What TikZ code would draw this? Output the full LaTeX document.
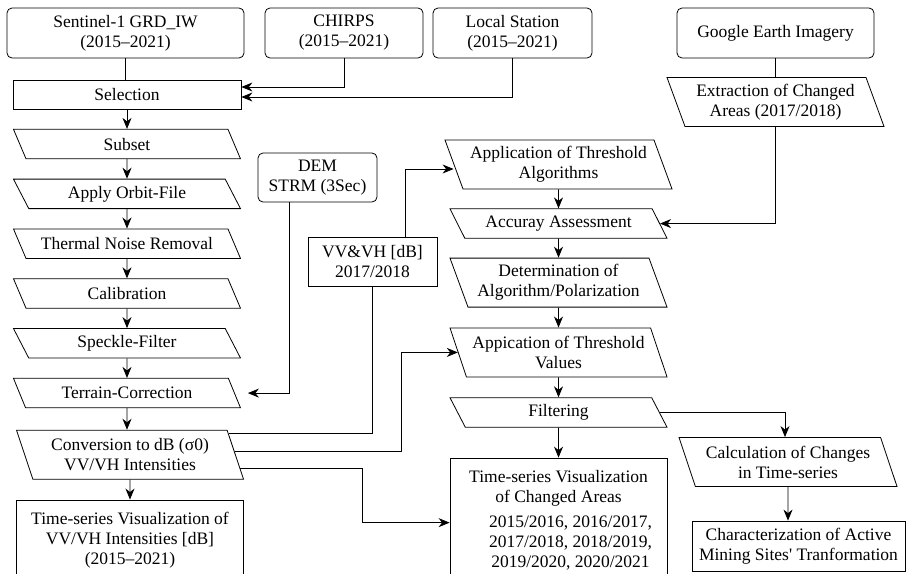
\documentclass[tikz,border=0pt]{standalone}
\usepackage{fontspec}
\setmainfont{Liberation Serif}
\usetikzlibrary{arrows.meta,positioning,shapes.geometric}

\begin{document}
\begin{tikzpicture}[
  x=1pt, y=-1pt,
  line width=0.8pt,
  every node/.style={draw,align=center,inner sep=2pt,
    font=\fontsize{17.5}{20}\selectfont},
  box/.style={rectangle,minimum height=49pt},
  rbox/.style={rectangle,rounded corners=5pt,minimum height=50pt},
  para/.style={trapezium,trapezium left angle=127.5,trapezium right angle=52.5,
    trapezium stretches body,minimum height=29.5pt,minimum width=227pt},
  paratwo/.style={trapezium,trapezium left angle=114.2,trapezium right angle=65.8,
    trapezium stretches body,minimum height=49pt,minimum width=227pt},
  arr/.style={-{Stealth[length=11pt,width=9pt,inset=3.5pt]}}
]
\useasboundingbox (0,0) rectangle (915,573);
% input data
\node[rbox,minimum width=237pt] (sen) at (125.5,33) {Sentinel-1 GRD\_IW\\(2015--2021)};
\node[rbox,minimum width=158pt] (chirps) at (344,33) {CHIRPS\\(2015--2021)};
\node[rbox,minimum width=159pt] (station) at (512.5,33) {Local Station\\(2015--2021)};
\node[rbox,minimum width=197pt] (google) at (775.5,33) {Google Earth Imagery};
\node[rbox,minimum width=119pt,minimum height=49pt] (dem) at (317.5,177.5) {DEM\\STRM (3Sec)};
% preprocessing chain
\node[box,minimum width=228pt,minimum height=29pt] (sel) at (127,94.5) {Selection};
\node[para,below=19.5pt of sel] (subset) {Subset};
\node[para,below=19.5pt of subset] (orbit) {Apply Orbit-File};
\node[para,below=19.5pt of orbit] (noise) {Thermal Noise Removal};
\node[para,below=19.5pt of noise] (calib) {Calibration};
\node[para,below=19.5pt of calib] (speckle) {Speckle-Filter};
\node[para,below=19.5pt of speckle] (terrain) {Terrain-Correction};
\node[paratwo,below=21.5pt of terrain,xshift=3pt] (conv) {Conversion to dB (σ0)\\VV/VH Intensities};
\node[box,minimum width=227pt,inner ysep=12pt,below=20pt of conv] (tsvv)
  {Time-series Visualization of\\VV/VH Intensities [dB]\\(2015--2021)};
\node[box,minimum width=129pt] (vvvh) at (372.5,261.5) {VV\&VH [dB]\\2017/2018};
% change detection
\node[paratwo,minimum width=217pt] (extr) at (775.5,102) {Extraction of Changed\\Areas (2017/2018)};
\node[paratwo] (thalg) at (558.5,164.5) {Application of Threshold\\Algorithms};
\node[para,minimum width=217pt,below=19pt of thalg] (acc) {Accuray Assessment};
\node[paratwo,minimum width=217pt,below=19pt of acc] (det) {Determination of\\Algorithm/Polarization};
\node[paratwo,minimum width=217pt,below=20pt of det] (thval) {Appication of Threshold\\Values};
\node[para,minimum width=217pt,below=20pt of thval] (filt) {Filtering};
\node[box,minimum width=217pt,inner ysep=12pt,below=30pt of filt] (tsca)
  {Time-series Visualization\\of Changed Areas\\[5pt]
   \hspace*{24pt}2015/2016, 2016/2017,\\\hspace*{24pt}2017/2018, 2018/2019,\\
   \hspace*{24pt}2019/2020, 2020/2021};
\node[paratwo,minimum width=218pt] (calc) at (788,462) {Calculation of Changes\\in Time-series};
\node[box,minimum width=213pt,minimum height=50pt] (mining) at (798.5,546)
  {Characterization of Active\\Mining Sites\textquotesingle{} Tranformation};
% connectors
\draw (sen) -- (sen |- sel.north);
\draw[arr] (chirps) |- ([yshift=7.5pt]sel.east);
\draw[arr] (station) |- ([yshift=-2.5pt]sel.east);
\draw[arr] (sel) -- (sel |- subset.north);
\draw[arr] (subset) -- (subset |- orbit.north);
\draw[arr] (orbit) -- (orbit |- noise.north);
\draw[arr] (noise) -- (noise |- calib.north);
\draw[arr] (calib) -- (calib |- speckle.north);
\draw[arr] (speckle) -- (speckle |- terrain.north);
\draw[arr] (terrain) -- (terrain |- conv.north);
\draw[arr] (conv) -- (conv |- tsvv.north);
\draw[arr] ([xshift=-28.5pt]dem.south) |- ([xshift=13pt]terrain.east);
\draw[arr] ([xshift=32.5pt]vvvh.north) |- ([yshift=-4.5pt]thalg.west);
\draw (conv.12) -| (vvvh.south);
\draw[arr] (conv.2) -- ++(167,0) |- (thval.west);
\draw[arr] (conv.-7) -- ++(122,0) |- ([yshift=-65pt]tsca.north west);
\draw (google) -- (google |- extr.north);
\draw[arr] (extr) |- (acc.east);
\draw[arr] (thalg) -- (thalg |- acc.north);
\draw[arr] (acc) -- (acc |- det.north);
\draw[arr] (det) -- (det |- thval.north);
\draw[arr] (thval) -- (thval |- filt.north);
\draw[arr] (filt) -- (filt |- tsca.north);
\draw[arr] (filt.east) -| ([xshift=-3pt]calc.north);
\draw[arr] (calc) -- (calc |- mining.north);
\end{tikzpicture}
\end{document}
